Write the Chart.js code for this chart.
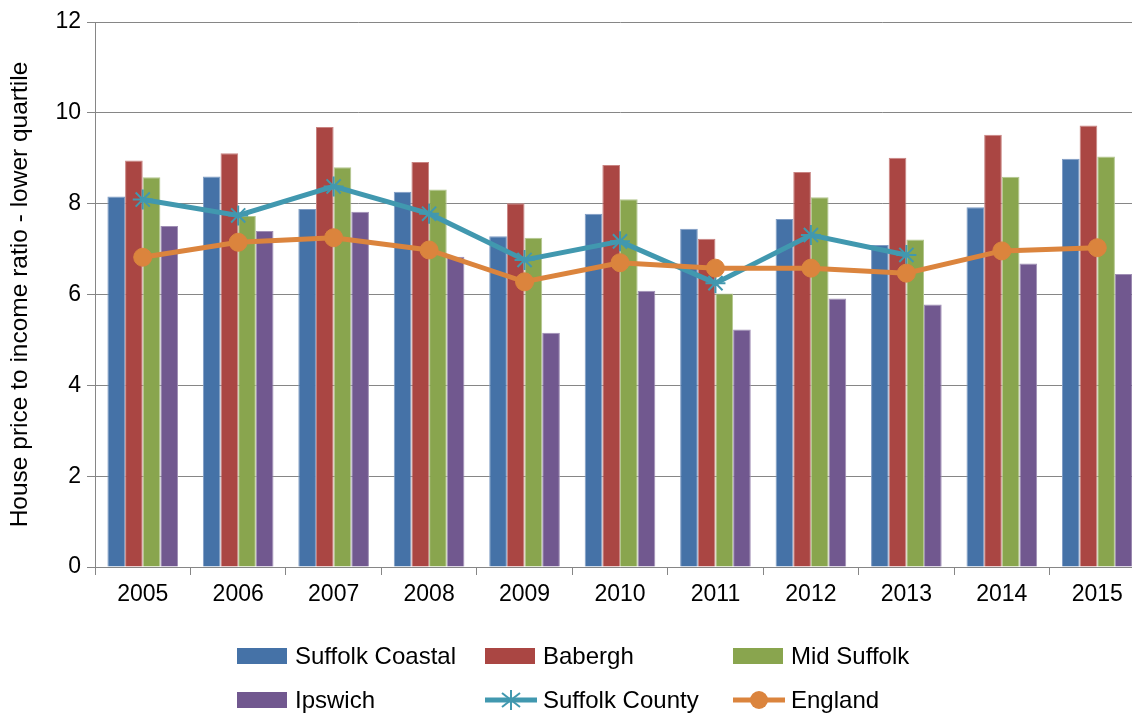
<!DOCTYPE html>
<html>
<head>
<meta charset="utf-8">
<script src="https://cdn.jsdelivr.net/npm/chart.js@4/dist/chart.umd.min.js"></script>
<style>
body{margin:0;background:#fff;}
#wrap{position:relative;width:1132px;height:713px;overflow:hidden;}
#c{position:absolute;left:0;top:0;}
.leg{position:absolute;font-family:"Liberation Sans",Arial,sans-serif;font-size:24px;color:#000;display:flex;align-items:center;height:30px;white-space:nowrap;}
.leg svg{margin-right:6px;}
</style>
</head>
<body>
<div id="wrap">
<canvas id="c" width="1157" height="713"></canvas>
</div>
<script>
const years=["2005","2006","2007","2008","2009","2010","2011","2012","2013","2014","2015"];
const suffolkCoastal=[8.16,8.60,7.88,8.26,7.28,7.78,7.45,7.66,7.09,7.92,8.99];
const babergh=[8.95,9.11,9.69,8.92,8.01,8.85,7.23,8.70,9.01,9.52,9.72];
const midSuffolk=[8.58,7.73,8.80,8.31,7.25,8.10,6.02,8.14,7.21,8.59,9.04];
const ipswich=[7.51,7.40,7.82,6.83,5.16,6.08,5.23,5.91,5.78,6.68,6.45];
const suffolkCounty=[8.09,7.74,8.38,7.78,6.76,7.17,6.25,7.31,6.87,null,null];
const england=[6.82,7.15,7.25,6.98,6.28,6.70,6.58,6.58,6.47,6.96,7.03];
const yTicks=[0,2,4,6,8,10,12];

const FONT="'Liberation Sans', Arial, sans-serif";

function bar(label,data,color,edge){
return {type:"bar",label:label,data:data,backgroundColor:color,borderColor:edge,borderWidth:1,order:2,
categoryPercentage:0.74,barPercentage:1};
}

const datasets=[
bar("Suffolk Coastal",suffolkCoastal,"#4572A7","#7f9cc4"),
bar("Babergh",babergh,"#AA4643","#c98482"),
bar("Mid Suffolk",midSuffolk,"#89A54E","#b3c78f"),
bar("Ipswich",ipswich,"#71588F","#a08fb5"),
{type:"line",label:"Suffolk County",data:suffolkCounty,borderColor:"#4198AF",backgroundColor:"#4198AF",
borderWidth:5,pointStyle:"star",pointRadius:10,pointBorderWidth:2,pointBorderColor:"#4198AF",order:1,spanGaps:false},
{type:"line",label:"England",data:england,borderColor:"#DB843D",backgroundColor:"#DB843D",
borderWidth:5,pointStyle:"circle",pointRadius:9,pointBorderWidth:1,order:0}
];

new Chart(document.getElementById("c"),{
type:"bar",
data:{labels:years,datasets:datasets},
options:{
responsive:false,
animation:false,
layout:{padding:{top:22,right:0,bottom:0,left:0}},
plugins:{legend:{display:false},tooltip:{enabled:false}},
scales:{
x:{
grid:{drawOnChartArea:false,drawTicks:true,tickLength:8,color:"#868686",offset:true},
border:{color:"#868686",width:1},
ticks:{color:"#000",font:{family:FONT,size:23},padding:6},
afterFit:function(s){s.height=146;}
},
y:{
min:0,max:12,
afterBuildTicks:function(s){s.ticks=yTicks.map(v=>({value:v}));},
grid:{color:"#868686",lineWidth:1,tickLength:8},
border:{color:"#868686",width:1},
ticks:{color:"#000",font:{family:FONT,size:23},padding:6},
title:{display:true,text:"House price to income ratio - lower quartile",color:"#000",
font:{family:FONT,size:24.5},padding:{top:6,bottom:0}},
afterFit:function(s){s.width=95;}
}
}
}
});

// legend as html
const wrap=document.getElementById("wrap");
const cols=[237,485,733];
const rows=[656,700];
datasets.forEach(function(d,i){
let el=document.createElement("div");
el.className="leg";
el.style.left=cols[i%3]+"px";
el.style.top=(rows[Math.floor(i/3)]-15)+"px";
let svg;
if(d.type==="bar"){
svg='<svg width="52" height="18"><rect x="0" y="1" width="50" height="16" fill="'+d.backgroundColor+'"/></svg>';
}else if(d.pointStyle==="star"){
let c=d.borderColor;
svg='<svg width="52" height="22"><line x1="0" y1="11" x2="52" y2="11" stroke="'+c+'" stroke-width="5"/>'+
'<g stroke="'+c+'" stroke-width="2"><line x1="26" y1="1" x2="26" y2="21"/><line x1="17" y1="4" x2="35" y2="18"/><line x1="17" y1="18" x2="35" y2="4"/></g></svg>';
}else{
let c=d.borderColor;
svg='<svg width="52" height="22"><line x1="0" y1="11" x2="52" y2="11" stroke="'+c+'" stroke-width="5"/>'+
'<circle cx="26" cy="11" r="9" fill="'+c+'"/></svg>';
}
el.innerHTML=svg+'<span>'+d.label+'</span>';
wrap.appendChild(el);
});
</script>
</body>
</html>
